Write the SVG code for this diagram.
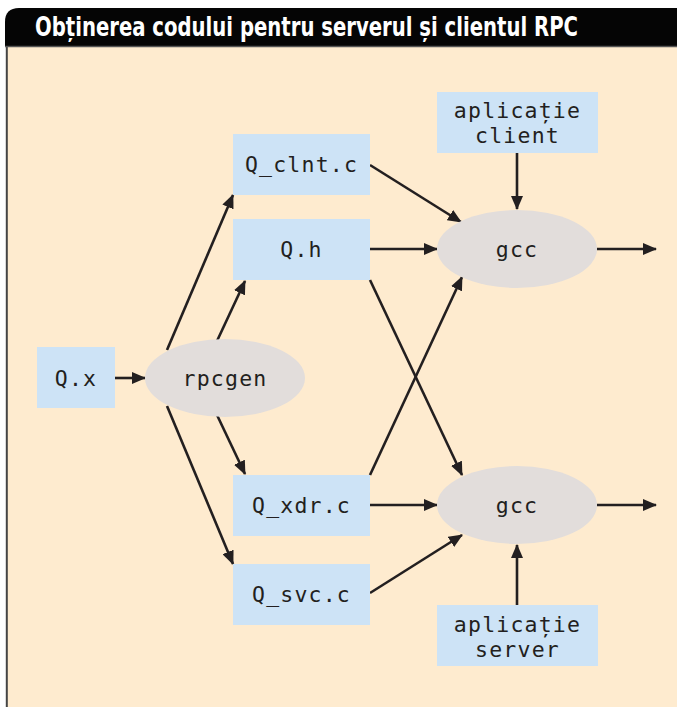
<svg xmlns="http://www.w3.org/2000/svg" width="677" height="707" viewBox="0 0 677 707">
  <style>
    .box { fill: #cde3f6; }
    .proc { fill: #e2dddb; }
    .lbl { font-family: "DejaVu Sans Mono", "Liberation Mono", monospace; font-size: 21.5px; letter-spacing: 1.2px; fill: #231f20; text-anchor: middle; }
    .edge { stroke: #231f20; stroke-width: 2.6; fill: none; marker-end: url(#arrow); }
    .title { font-family: "DejaVu Sans Condensed", "Liberation Sans Narrow", "Liberation Sans", sans-serif; font-weight: bold; font-size: 20px; fill: #ffffff; }
  </style>
  <defs>
    <marker id="arrow" viewBox="0 0 14 12" refX="13" refY="6" markerWidth="14" markerHeight="12" markerUnits="userSpaceOnUse" orient="auto">
      <path d="M0,0 L14,6 L0,12 Z" fill="#231f20"/>
    </marker>
  </defs>

  <!-- frame -->
  <rect x="0" y="0" width="677" height="707" fill="#ffffff"/>
  <rect x="6" y="46" width="671" height="661" fill="#feebcf"/>
  <line x1="6.8" y1="46" x2="6.8" y2="707" stroke="#454545" stroke-width="2"/>
  <path d="M5,46 L5,22 Q5,8 19,8 L677,8 L677,46 Z" fill="#050505"/>
  <line x1="5" y1="46.5" x2="677" y2="46.5" stroke="#555555" stroke-width="1.5"/>
  <!-- title: condensed face stretched vertically -->
  <text class="title" transform="translate(35,36) scale(1,1.32)" x="0" y="0" textLength="543" lengthAdjust="spacingAndGlyphs">Obținerea codului pentru serverul și clientul RPC</text>

  <!-- connectors -->
  <g id="connectors">
    <line class="edge" x1="115" y1="378" x2="145" y2="378"/>
    <line class="edge" x1="167" y1="350" x2="233" y2="195"/>
    <line class="edge" x1="217" y1="341" x2="245" y2="281"/>
    <line class="edge" x1="217" y1="415" x2="245" y2="474"/>
    <line class="edge" x1="167" y1="406" x2="233" y2="564"/>
    <line class="edge" x1="370" y1="165" x2="461" y2="222"/>
    <line class="edge" x1="370" y1="249" x2="437" y2="249"/>
    <line class="edge" x1="517" y1="153" x2="517" y2="209"/>
    <line class="edge" x1="597" y1="249" x2="656" y2="249"/>
    <line class="edge" x1="370" y1="280" x2="462" y2="475"/>
    <line class="edge" x1="370" y1="475" x2="462" y2="277"/>
    <line class="edge" x1="370" y1="505" x2="437" y2="505"/>
    <line class="edge" x1="370" y1="593" x2="462" y2="535"/>
    <line class="edge" x1="517" y1="605" x2="517" y2="545"/>
    <line class="edge" x1="597" y1="505" x2="656" y2="505"/>
  </g>

  <!-- nodes -->
  <g id="qx">
    <rect class="box" x="37" y="347" width="78" height="61"/>
    <text class="lbl" x="76" y="386">Q.x</text>
  </g>
  <g id="rpcgen">
    <ellipse class="proc" cx="225" cy="378" rx="80" ry="39"/>
    <text class="lbl" x="225" y="386">rpcgen</text>
  </g>
  <g id="qclnt">
    <rect class="box" x="233" y="134" width="137" height="61"/>
    <text class="lbl" x="301.5" y="172">Q_clnt.c</text>
  </g>
  <g id="qh">
    <rect class="box" x="233" y="219" width="137" height="61"/>
    <text class="lbl" x="301.5" y="257">Q.h</text>
  </g>
  <g id="qxdr">
    <rect class="box" x="233" y="475" width="137" height="61"/>
    <text class="lbl" x="301.5" y="513">Q_xdr.c</text>
  </g>
  <g id="qsvc">
    <rect class="box" x="233" y="564" width="137" height="61"/>
    <text class="lbl" x="301.5" y="602">Q_svc.c</text>
  </g>
  <g id="gcc-client">
    <ellipse class="proc" cx="517" cy="249" rx="80" ry="39"/>
    <text class="lbl" x="517" y="257">gcc</text>
  </g>
  <g id="gcc-server">
    <ellipse class="proc" cx="517" cy="505" rx="80" ry="39"/>
    <text class="lbl" x="517" y="513">gcc</text>
  </g>
  <g id="app-client">
    <rect class="box" x="437" y="92" width="161" height="61"/>
    <text class="lbl" x="517.5" y="118">aplicație</text>
    <text class="lbl" x="517.5" y="143">client</text>
  </g>
  <g id="app-server">
    <rect class="box" x="437" y="605" width="161" height="61"/>
    <text class="lbl" x="517.5" y="632">aplicație</text>
    <text class="lbl" x="517.5" y="657">server</text>
  </g>
</svg>
